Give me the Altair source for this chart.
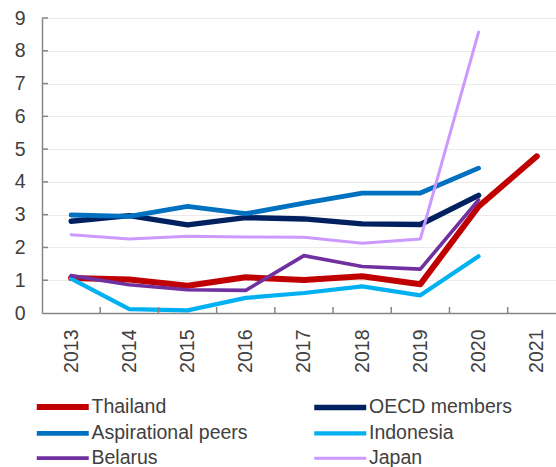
import altair as alt
import pandas as pd

# Categories and series
years = [2013, 2014, 2015, 2016, 2017, 2018, 2019, 2020, 2021]
series_names = ["Thailand", "OECD members", "Aspirational peers", "Indonesia", "Belarus", "Japan"]
series_colors = ["#C00000", "#002060", "#0070C0", "#00B0F0", "#7030A0", "#CC99FF"]
series_widths = [6, 3, 3, 3, 3, 3]

thailand = [1.07, 1.02, 0.83, 1.09, 1.01, 1.12, 0.88, 3.25, 4.78]
oecd_members = [2.80, 2.97, 2.69, 2.91, 2.87, 2.72, 2.70, 3.59]
aspirational_peers = [2.99, 2.95, 3.25, 3.03, 3.35, 3.66, 3.66, 4.42]
indonesia = [1.05, 0.12, 0.08, 0.46, 0.61, 0.81, 0.54, 1.73]
belarus = [1.14, 0.86, 0.71, 0.69, 1.75, 1.42, 1.34, 3.45]
japan = [2.39, 2.26, 2.34, 2.32, 2.31, 2.13, 2.26, 8.57]

y_tick_values = [0, 1, 2, 3, 4, 5, 6, 7, 8, 9]
x_tick_boundaries = [2013.5, 2014.5, 2015.5, 2016.5, 2017.5, 2018.5, 2019.5, 2020.5]

values_by_series = [thailand, oecd_members, aspirational_peers, indonesia, belarus, japan]
rows = []
for order, (name, vals) in enumerate(zip(series_names, values_by_series)):
    for yr, v in zip(years, vals):
        rows.append({"series": name, "year": yr, "value": v, "order": order})
df = pd.DataFrame(rows)

W, H = 514, 295
FONT = "Liberation Sans, Arial, sans-serif"
AXIS_GREY = "#868686"
TEXT_GREY = "#404040"

x_scale = alt.Scale(domain=[2012.5, 2021.33], nice=False, zero=False)
y_scale = alt.Scale(domain=[0, 9], nice=False)

x_axis = alt.Axis(
    title=None,
    values=years,
    format="d",
    labelAngle=270,
    labelPadding=16,
    labelFont=FONT,
    labelFontSize=19.5,
    labelColor=TEXT_GREY,
    ticks=False,
    grid=False,
    domainColor=AXIS_GREY,
    domainWidth=1.5,
)
y_axis = alt.Axis(
    title=None,
    values=y_tick_values,
    labelPadding=17,
    labelFont=FONT,
    labelFontSize=19.5,
    labelColor=TEXT_GREY,
    ticks=False,
    grid=True,
    gridColor="#EAEAEA",
    gridWidth=1,
    domainColor=AXIS_GREY,
    domainWidth=1.5,
)

legend = alt.Legend(
    title=None,
    orient="none",
    direction="horizontal",
    legendX=-5,
    legendY=379,
    columns=2,
    columnPadding=54.5,
    rowPadding=3.7,
    symbolType="M-5.2,0H5.2",
    symbolSize=100,
    symbolOffset=16,
    labelOffset=19,
    labelFont=FONT,
    labelFontSize=19.5,
    labelColor=TEXT_GREY,
    labelLimit=400,
)

lines = alt.Chart(df).mark_line(strokeCap="round", strokeJoin="round").encode(
    x=alt.X("year:Q", scale=x_scale, axis=x_axis),
    y=alt.Y("value:Q", scale=y_scale, axis=y_axis),
    color=alt.Color("series:N", scale=alt.Scale(domain=series_names, range=series_colors),
                    sort=series_names, legend=legend),
    strokeWidth=alt.StrokeWidth("series:N", scale=alt.Scale(domain=series_names, range=series_widths),
                                sort=series_names, legend=legend),
    order=alt.Order("order:Q"),
    detail="series:N",
)

# Inward tick marks on both axes
x_ticks = alt.Chart(pd.DataFrame({"year": x_tick_boundaries})).mark_rule(
    color=AXIS_GREY, strokeWidth=1.5
).encode(
    x=alt.X("year:Q", scale=x_scale, axis=x_axis),
    y=alt.value(H - 6),
    y2=alt.value(H),
)

y_ticks = alt.Chart(pd.DataFrame({"value": y_tick_values[1:]})).mark_rule(
    color=AXIS_GREY, strokeWidth=1.5
).encode(
    y=alt.Y("value:Q", scale=y_scale, axis=y_axis),
    x=alt.value(0),
    x2=alt.value(6),
)

chart = alt.layer(lines, x_ticks, y_ticks).properties(
    width=W,
    height=H,
    autosize=alt.AutoSizeParams(type="none"),
    padding={"left": 42, "top": 18, "right": 0, "bottom": 154},
).configure_view(stroke=None).configure(background="white")

chart.save("out.html", embed_options={"renderer": "svg", "actions": False})
